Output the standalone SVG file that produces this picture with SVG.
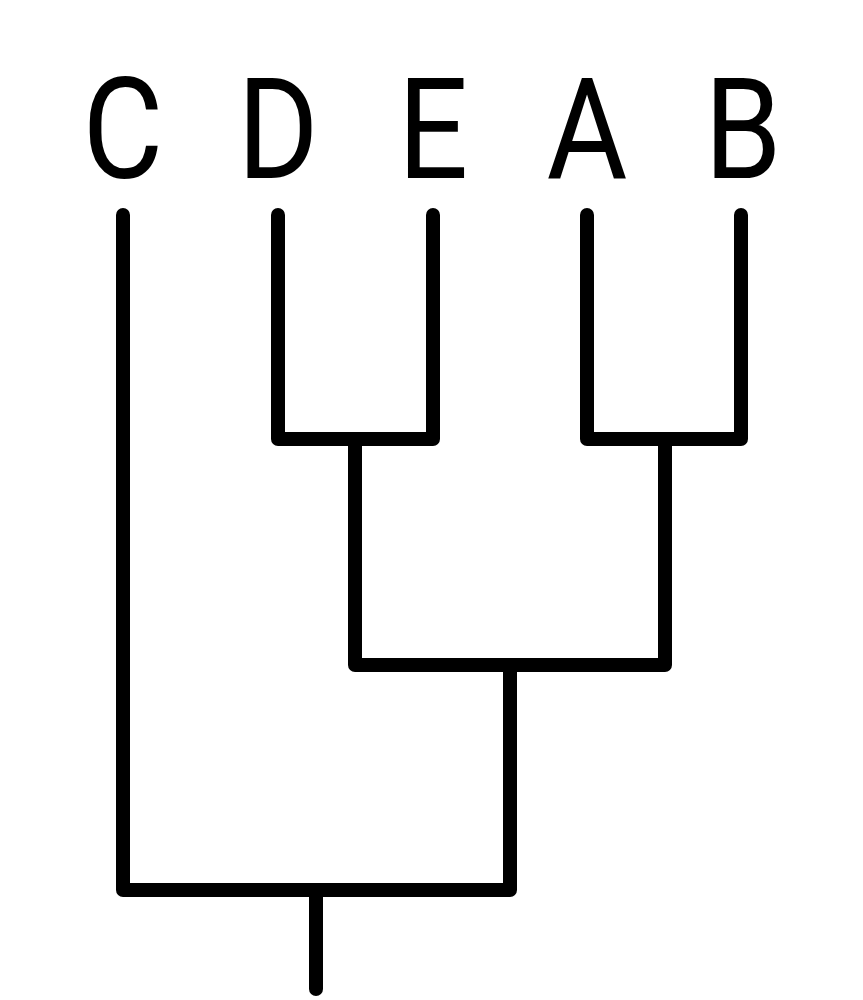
<svg xmlns="http://www.w3.org/2000/svg" width="863" height="1000" viewBox="0 0 863 1000">
<style>
.lbl{font-family:Roboto,"Liberation Sans",sans-serif;font-size:141px;fill:#000;text-anchor:middle}
.edge{fill:none;stroke:#000;stroke-width:14;stroke-linecap:round;stroke-linejoin:round}
</style>
<rect width="863" height="1000" fill="#fff"/>
<g id="leaf-C"><text class="lbl" transform="translate(123 178) scale(0.88 1)">C</text></g>
<g id="leaf-D"><text class="lbl" transform="translate(278 178) scale(0.88 1)">D</text></g>
<g id="leaf-E"><text class="lbl" transform="translate(433 178) scale(0.88 1)">E</text></g>
<g id="leaf-A"><text class="lbl" transform="translate(587 178) scale(0.88 1)">A</text></g>
<g id="leaf-B"><text class="lbl" transform="translate(743 178) scale(0.88 1)">B</text></g>
<g id="connectors">
<path class="edge" d="M278 215V439H433V215"/>
<path class="edge" d="M587 215V439H741V215"/>
<path class="edge" d="M355 439V665H665V439"/>
<path class="edge" d="M123 215V890H510V665"/>
<path class="edge" d="M316 890V989"/>
</g>
</svg>
